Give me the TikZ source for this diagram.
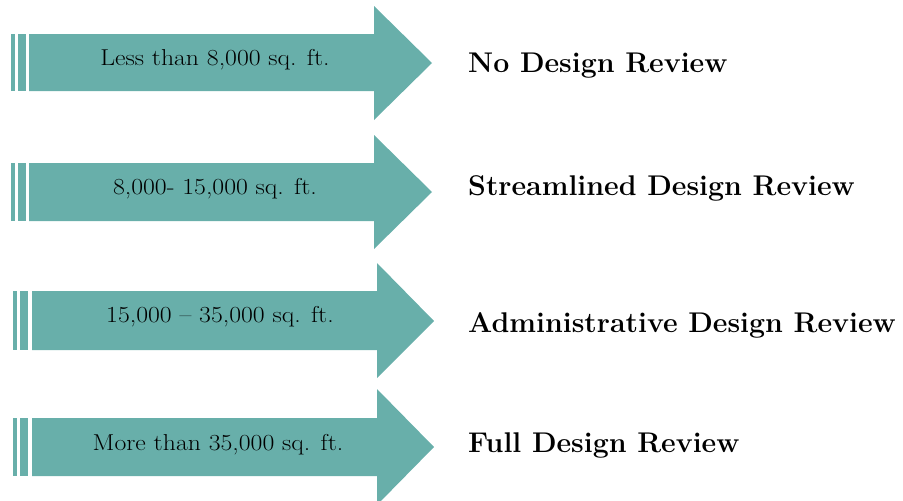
\documentclass[tikz,border=0pt]{standalone}
\usepackage{fontspec}
\usepackage{tikz}
\usetikzlibrary{positioning}
\newfontfamily\sizefont{Latin Modern Roman}[FakeStretch=1.12, Ligatures=TeX]
\definecolor{reviewteal}{RGB}{104,175,170}

\begin{document}
\begin{tikzpicture}[
    x=1pt, y=-1pt,
    band/.style={fill=reviewteal, draw=none},
    sizelabel/.style={anchor=base, inner sep=0pt, font=\sizefont\fontsize{23}{26}\selectfont},
    reviewlabel/.style={anchor=base west, inner sep=0pt, font=\fontsize{28.5}{32}\selectfont\bfseries}
]
    \useasboundingbox (0,0) rectangle (903,501);

    % Arrow 1
    \fill[band] (11,34) rectangle (15,91);
    \fill[band] (18,34) rectangle (26,91);
    \fill[band] (29,34) -- (374,34) -- (374,6) -- (432,63) -- (374,120) -- (374,91) -- (29,91) -- cycle;
    \node[sizelabel] (size1) at (215,65) {Less than 8,000 sq. ft.};
    \node[reviewlabel] (review1) at (468,72) {No Design Review};

    % Arrow 2
    \fill[band] (11,163) rectangle (15,221);
    \fill[band] (18,163) rectangle (26,221);
    \fill[band] (29,163) -- (374,163) -- (374,135) -- (432,192) -- (374,249) -- (374,221) -- (29,221) -- cycle;
    \node[sizelabel] (size2) at (215,194) {8,000- 15,000 sq. ft.};
    \node[reviewlabel] (review2) at (468,195) {Streamlined Design Review};

    % Arrow 3
    \fill[band] (13,291) rectangle (17,350);
    \fill[band] (20,291) rectangle (28,350);
    \fill[band] (32,291) -- (377,291) -- (377,263) -- (434,321) -- (377,378) -- (377,350) -- (32,350) -- cycle;
    \node[sizelabel] (size3) at (220,322) {15,000 – 35,000 sq. ft.};
    \node[reviewlabel] (review3) at (468,332) {Administrative Design Review};

    % Arrow 4
    \fill[band] (13,418) rectangle (17,476);
    \fill[band] (20,418) rectangle (28,476);
    \fill[band] (32,418) -- (377,418) -- (377,389) -- (434,447) -- (377,505) -- (377,476) -- (32,476) -- cycle;
    \node[sizelabel] (size4) at (218,450) {More than 35,000 sq. ft.};
    \node[reviewlabel] (review4) at (468,452) {Full Design Review};

\end{tikzpicture}
\end{document}
